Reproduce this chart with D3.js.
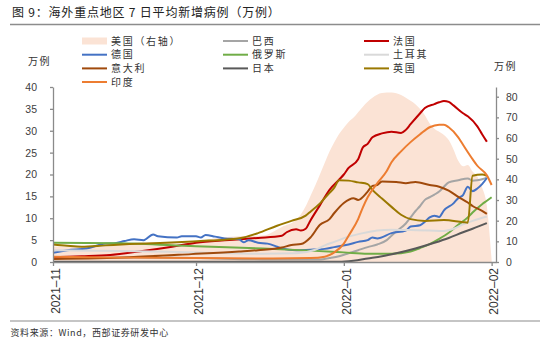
<!DOCTYPE html>
<html>
<head>
<meta charset="utf-8">
<script src="https://cdn.jsdelivr.net/npm/d3@7"></script>
<style>
  body { margin: 0; background: #fff; }
  svg { display: block; font-family: "Liberation Sans", Arial, sans-serif; }
  .cjk { font-family: "Noto Sans CJK SC", sans-serif; }
</style>
</head>
<body>
<svg id="chart" width="550" height="344"></svg>
<script>
// 7日平均新增病例（万例），美国用右轴
const usa = [["2021-11-01",7.5],["2021-11-10",8.0],["2021-11-18",9.0],["2021-11-24",9.6],["2021-11-28",8.8],["2021-12-01",9.8],["2021-12-05",11.5],["2021-12-10",12.5],["2021-12-15",12.8],["2021-12-19",17.0],["2021-12-22",20.4],["2021-12-24",27.0],["2021-12-25",32.0],["2021-12-26",37.0],["2021-12-27",42.5],["2021-12-28",48.0],["2021-12-29",53.5],["2021-12-30",58.0],["2021-12-31",62.0],["2022-01-01",65.0],["2022-01-02",67.8],["2022-01-03",69.8],["2022-01-04",72.5],["2022-01-05",75.2],["2022-01-07",79.5],["2022-01-09",81.8],["2022-01-11",82.0],["2022-01-13",80.8],["2022-01-14",79.5],["2022-01-16",76.3],["2022-01-18",71.0],["2022-01-19",67.0],["2022-01-20",64.5],["2022-01-21",63.0],["2022-01-22",61.5],["2022-01-23",59.0],["2022-01-24",54.5],["2022-01-25",49.0],["2022-01-26",46.3],["2022-01-27",47.0],["2022-01-28",43.8],["2022-01-29",41.4],["2022-01-30",36.0],["2022-01-31",27.0],["2022-02-01",1.0]];
const brazil = [["2021-11-01",1.1],["2021-11-15",1.0],["2021-12-01",0.9],["2021-12-15",0.6],["2021-12-27",0.6],["2021-12-29",0.9],["2021-12-31",1.3],["2022-01-02",2.0],["2022-01-04",2.7],["2022-01-06",3.4],["2022-01-08",4.0],["2022-01-10",5.0],["2022-01-11",6.0],["2022-01-12",7.0],["2022-01-14",8.8],["2022-01-15",10.2],["2022-01-16",11.6],["2022-01-17",12.8],["2022-01-18",14.2],["2022-01-19",14.8],["2022-01-20",15.4],["2022-01-21",16.1],["2022-01-22",17.2],["2022-01-23",18.2],["2022-01-25",18.7],["2022-01-27",19.1],["2022-01-28",18.6],["2022-01-29",18.7],["2022-01-30",18.9],["2022-01-31",19.3]];
const france = [["2021-11-01",1.1],["2021-11-07",1.3],["2021-11-13",1.6],["2021-11-19",2.4],["2021-11-26",3.5],["2021-12-01",4.4],["2021-12-08",5.0],["2021-12-14",5.5],["2021-12-19",6.0],["2021-12-20",6.8],["2021-12-22",7.5],["2021-12-23",7.2],["2021-12-24",7.6],["2021-12-25",9.5],["2021-12-27",13.0],["2021-12-29",16.5],["2021-12-31",18.8],["2022-01-01",20.0],["2022-01-02",21.5],["2022-01-04",23.5],["2022-01-05",26.2],["2022-01-06",27.0],["2022-01-07",28.5],["2022-01-09",29.4],["2022-01-11",29.8],["2022-01-13",29.5],["2022-01-14",30.2],["2022-01-15",31.5],["2022-01-17",34.0],["2022-01-18",35.2],["2022-01-20",36.1],["2022-01-21",36.5],["2022-01-22",36.8],["2022-01-23",36.6],["2022-01-24",35.8],["2022-01-26",34.0],["2022-01-27",33.3],["2022-01-29",31.0],["2022-01-30",29.2],["2022-01-31",27.5]];
const germany = [["2021-11-01",2.1],["2021-11-04",2.7],["2021-11-08",3.1],["2021-11-12",4.2],["2021-11-14",4.3],["2021-11-16",4.8],["2021-11-18",5.2],["2021-11-20",5.0],["2021-11-22",6.3],["2021-11-23",5.9],["2021-11-27",5.6],["2021-11-28",5.9],["2021-12-01",5.9],["2021-12-02",5.6],["2021-12-03",6.2],["2021-12-05",5.8],["2021-12-07",5.4],["2021-12-10",5.2],["2021-12-11",4.5],["2021-12-12",5.0],["2021-12-14",4.4],["2021-12-16",4.2],["2021-12-18",3.5],["2021-12-19",3.1],["2021-12-22",2.7],["2021-12-25",2.8],["2021-12-28",3.0],["2021-12-30",3.4],["2022-01-02",4.0],["2022-01-04",4.6],["2022-01-06",5.0],["2022-01-07",5.6],["2022-01-08",5.4],["2022-01-11",6.6],["2022-01-14",7.2],["2022-01-15",8.1],["2022-01-17",8.4],["2022-01-18",9.2],["2022-01-19",10.2],["2022-01-20",10.6],["2022-01-21",10.3],["2022-01-22",11.8],["2022-01-24",13.4],["2022-01-25",14.6],["2022-01-26",15.3],["2022-01-27",17.2],["2022-01-28",16.2],["2022-01-29",16.8],["2022-01-30",17.8],["2022-01-31",19.2]];
const russia = [["2021-11-01",4.4],["2021-11-15",4.3],["2021-12-01",3.6],["2021-12-15",3.1],["2021-12-25",2.6],["2022-01-01",2.2],["2022-01-06",1.9],["2022-01-11",1.9],["2022-01-15",2.4],["2022-01-17",3.2],["2022-01-19",4.1],["2022-01-21",5.3],["2022-01-23",6.7],["2022-01-25",8.5],["2022-01-27",10.2],["2022-01-28",11.3],["2022-01-30",13.2],["2022-01-31",14.0],["2022-02-01",14.8]];
const turkey = [["2021-11-01",2.7],["2021-11-15",2.5],["2021-12-01",2.2],["2021-12-15",1.9],["2021-12-22",2.0],["2021-12-26",2.8],["2021-12-28",3.8],["2021-12-30",4.6],["2022-01-02",5.8],["2022-01-05",6.6],["2022-01-08",7.2],["2022-01-11",7.4],["2022-01-15",7.3],["2022-01-19",7.2],["2022-01-22",7.1],["2022-01-24",7.6],["2022-01-26",8.6],["2022-01-28",9.4],["2022-01-31",10.4]];
const italy = [["2021-11-01",0.7],["2021-11-17",1.1],["2021-11-30",1.8],["2021-12-10",2.4],["2021-12-14",2.7],["2021-12-19",3.3],["2021-12-21",3.9],["2021-12-23",4.1],["2021-12-25",5.6],["2021-12-27",8.5],["2021-12-29",9.8],["2021-12-30",11.2],["2022-01-01",13.5],["2022-01-03",14.6],["2022-01-04",14.2],["2022-01-06",16.1],["2022-01-07",17.4],["2022-01-08",17.6],["2022-01-09",18.4],["2022-01-12",18.3],["2022-01-14",18.0],["2022-01-16",18.3],["2022-01-19",17.6],["2022-01-21",17.2],["2022-01-23",16.3],["2022-01-25",14.9],["2022-01-27",13.6],["2022-01-28",12.8],["2022-01-30",11.7],["2022-01-31",11.0]];
const japan = [["2021-11-01",0.05],["2021-12-31",0.05],["2022-01-03",0.3],["2022-01-06",0.8],["2022-01-09",1.3],["2022-01-12",2.0],["2022-01-16",3.1],["2022-01-20",4.4],["2022-01-23",5.5],["2022-01-26",6.8],["2022-01-28",7.6],["2022-01-31",8.9]];
const uk = [["2021-11-01",4.0],["2021-11-04",3.7],["2021-11-07",3.5],["2021-11-12",3.8],["2021-11-17",4.1],["2021-11-22",4.3],["2021-11-27",4.5],["2021-12-02",4.8],["2021-12-07",5.1],["2021-12-11",5.6],["2021-12-14",6.6],["2021-12-18",8.3],["2021-12-21",9.4],["2021-12-24",10.6],["2021-12-25",11.5],["2021-12-27",13.4],["2021-12-29",15.8],["2021-12-30",17.0],["2021-12-31",18.7],["2022-01-02",18.6],["2022-01-04",18.2],["2022-01-06",17.8],["2022-01-07",16.5],["2022-01-09",14.5],["2022-01-11",12.6],["2022-01-13",10.8],["2022-01-15",9.8],["2022-01-18",9.4],["2022-01-22",9.6],["2022-01-26",9.1],["2022-01-27",9.0],["2022-01-28",19.7],["2022-01-30",20.0],["2022-01-31",19.7]];
const india = [["2021-11-01",1.2],["2021-11-15",1.0],["2021-12-01",0.9],["2021-12-15",0.8],["2021-12-25",0.9],["2021-12-28",1.2],["2021-12-30",2.2],["2022-01-01",4.2],["2022-01-02",6.0],["2022-01-04",9.8],["2022-01-05",12.5],["2022-01-06",14.8],["2022-01-08",18.0],["2022-01-10",20.8],["2022-01-11",22.8],["2022-01-13",25.3],["2022-01-15",27.4],["2022-01-17",29.2],["2022-01-19",30.8],["2022-01-21",31.4],["2022-01-22",31.4],["2022-01-23",30.8],["2022-01-25",28.5],["2022-01-26",26.8],["2022-01-28",23.5],["2022-01-29",22.0],["2022-01-31",19.8],["2022-02-01",17.6]];

const seriesNames = ["美国（右轴）", "巴西", "法国", "德国", "俄罗斯", "土耳其", "意大利", "日本", "英国", "印度"];
const leftTicks = [0, 5, 10, 15, 20, 25, 30, 35, 40];
const rightTicks = [0, 10, 20, 30, 40, 50, 60, 70, 80];
const monthTicks = ["2021-11-01", "2021-12-01", "2022-01-01", "2022-02-01"];
const monthLabels = ["2021–11", "2021–12", "2022–01", "2022–02"];

const colors = ["#FBE3D5", "#A5A5A5", "#C00000", "#4472C4", "#70AD47", "#D9D9D9", "#A04A0C", "#595959", "#9A7800", "#ED7D31"];
const allSeries = [usa, brazil, france, germany, russia, turkey, italy, japan, uk, india];

const parse = d3.timeParse("%Y-%m-%d");
const svg = d3.select("#chart");

const plotLeft = 53, plotRight = 496, plotTop = 87, plotBottom = 262;
const x = d3.scaleTime().domain([parse("2021-11-01"), new Date(2022, 1, 1, 22)]).range([plotLeft, plotRight]);
const yL = d3.scaleLinear().domain([0, 40]).range([plotBottom, plotTop]);
const yR = d3.scaleLinear().domain([0, 84.7]).range([plotBottom, plotTop]);

// title + rules
svg.append("text").attr("class", "cjk").attr("x", 12).attr("y", 16.5)
  .attr("font-size", 12).attr("letter-spacing", 0.8).attr("fill", "#222")
  .text("图 9：海外重点地区 7 日平均新增病例（万例）");
svg.append("line").attr("x1", 10).attr("x2", 540).attr("y1", 24.5).attr("y2", 24.5)
  .attr("stroke", "#8c8c8c").attr("stroke-width", 1.6);
svg.append("line").attr("x1", 10).attr("x2", 540).attr("y1", 321).attr("y2", 321)
  .attr("stroke", "#8c8c8c").attr("stroke-width", 1.2);
svg.append("text").attr("class", "cjk").attr("x", 10.5).attr("y", 336)
  .attr("font-size", 9).attr("letter-spacing", 0.6).attr("fill", "#333")
  .text("资料来源：Wind，西部证券研发中心");

// units
svg.append("text").attr("class", "cjk").attr("x", 28).attr("y", 64.5)
  .attr("font-size", 10).attr("letter-spacing", 1.5).attr("fill", "#333").text("万例");
svg.append("text").attr("class", "cjk").attr("x", 494).attr("y", 70)
  .attr("font-size", 10).attr("letter-spacing", 1.5).attr("fill", "#333").text("万例");

// US area on right axis
const toPts = s => s.map(([d, v]) => ({ date: parse(d), v }));
const area = d3.area().x(d => x(d.date)).y0(yR(0)).y1(d => yR(d.v)).curve(d3.curveMonotoneX);
svg.append("path").datum(toPts(usa)).attr("d", area).attr("fill", colors[0]);

// lines on left axis
const line = d3.line().x(d => x(d.date)).y(d => yL(d.v)).curve(d3.curveMonotoneX);
allSeries.slice(1).forEach((s, i) => {
  svg.append("path").datum(toPts(s)).attr("d", line)
    .attr("fill", "none").attr("stroke", colors[i + 1]).attr("stroke-width", 2)
    .attr("stroke-linejoin", "round");
});

// axes
const axisColor = "#8a8a8a";
const styleAxis = g => {
  g.selectAll("path,line").attr("stroke", axisColor).attr("stroke-width", 1.3);
  g.selectAll("text").attr("fill", "#404040").attr("font-size", 10.5)
    .attr("font-family", "'Liberation Sans', Arial, sans-serif");
};
svg.append("g").attr("transform", `translate(${plotLeft},0)`)
  .call(d3.axisLeft(yL).tickValues(leftTicks).tickSize(3).tickSizeOuter(0).tickPadding(13))
  .call(styleAxis);
svg.append("g").attr("transform", `translate(${plotRight},0)`)
  .call(d3.axisRight(yR).tickValues(rightTicks).tickSize(3).tickSizeOuter(0).tickPadding(7))
  .call(styleAxis);
svg.append("g").attr("transform", `translate(0,${plotBottom})`)
  .call(d3.axisBottom(x).tickValues(monthTicks.map(parse)).tickSize(4).tickSizeOuter(0).tickFormat(""))
  .call(styleAxis);

monthTicks.forEach((m, i) => {
  svg.append("text")
    .attr("transform", `translate(${x(parse(m)) + 2.5},268) rotate(-90)`)
    .attr("text-anchor", "end").attr("dy", "0.35em")
    .attr("font-size", 12).attr("fill", "#333")
    .text(monthLabels[i]);
});

// legend
const colX = [82, 223, 364], rowY = [41, 54.7, 68.4, 82];
seriesNames.forEach((name, i) => {
  const cx = colX[i % 3], cy = rowY[Math.floor(i / 3)];
  if (i === 0) {
    svg.append("rect").attr("x", cx).attr("y", cy - 3.5).attr("width", 25).attr("height", 7).attr("fill", colors[0]);
  } else {
    svg.append("line").attr("x1", cx).attr("x2", cx + 25).attr("y1", cy).attr("y2", cy)
      .attr("stroke", colors[i]).attr("stroke-width", 2);
  }
  svg.append("text").attr("class", "cjk").attr("x", cx + 29).attr("y", cy).attr("dy", "0.36em")
    .attr("font-size", 10).attr("letter-spacing", 1.7).attr("fill", "#333").text(name);
});
</script>
</body>
</html>
